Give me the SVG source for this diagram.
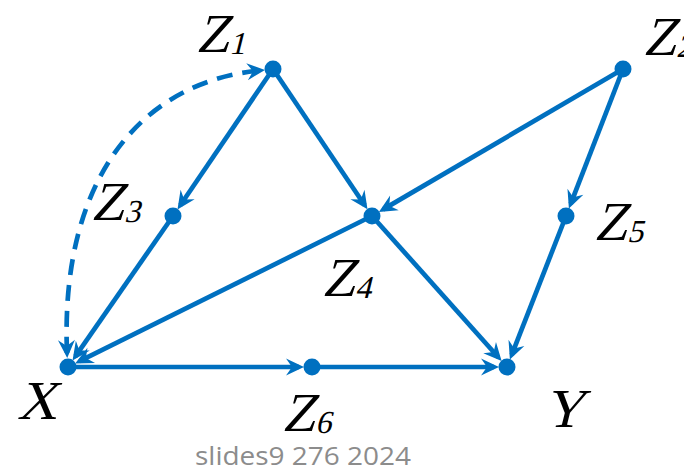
<svg xmlns="http://www.w3.org/2000/svg" width="684" height="468" viewBox="0 0 684 468">
<style>
.edge{fill:none;stroke:#0070C0;stroke-width:4.7;}
.dash{stroke-dasharray:16 10;}
.node{fill:#0070C0;}
.lbl{font-family:"Liberation Serif","Times New Roman",serif;font-size:55px;fill:#000;}
.sub{font-size:32px;}
.wm{font-family:"Open Sans","Noto Sans",sans-serif;font-size:26px;fill:#8c8c8c;}
</style>
<defs>
<marker id="arr" markerUnits="userSpaceOnUse" markerWidth="40" markerHeight="40" refX="0" refY="0" orient="auto-start-reverse" overflow="visible">
<path d="M5,0 L-13,-8.5 L-7,0 L-13,8.5 Z" fill="#0070C0"/>
</marker>
</defs>
<rect width="684" height="468" fill="#fff"/>
<g id="connectors">
<path class="edge dash" d="M67,353 C60,180 140,82 260,70.5" marker-start="url(#arr)" marker-end="url(#arr)"/>
<line class="edge" x1="273" y1="69" x2="180.3" y2="205.3" marker-end="url(#arr)"/>
<line class="edge" x1="273" y1="69" x2="364.7" y2="205.2" marker-end="url(#arr)"/>
<line class="edge" x1="623" y1="69" x2="383.2" y2="209.4" marker-end="url(#arr)"/>
<line class="edge" x1="623" y1="69" x2="570.7" y2="203.9" marker-end="url(#arr)"/>
<line class="edge" x1="173" y1="216" x2="75.4" y2="356.3" marker-end="url(#arr)"/>
<line class="edge" x1="372" y1="216" x2="79.6" y2="361.2" marker-end="url(#arr)"/>
<line class="edge" x1="372" y1="216" x2="498.3" y2="357.3" marker-end="url(#arr)"/>
<line class="edge" x1="566" y1="216" x2="511.7" y2="354.9" marker-end="url(#arr)"/>
<line class="edge" x1="68" y1="367" x2="299" y2="367" marker-end="url(#arr)"/>
<line class="edge" x1="312" y1="367" x2="494" y2="367" marker-end="url(#arr)"/>
</g>
<g id="Z1"><circle class="node" cx="273" cy="69" r="8.5"/><text class="lbl" transform="translate(196,52) skewX(-14)">Z<tspan class="sub" dy="2">1</tspan></text></g>
<g id="Z2"><circle class="node" cx="623" cy="69" r="8.5"/><text class="lbl" transform="translate(643,55) skewX(-14)">Z<tspan class="sub" dy="2">2</tspan></text></g>
<g id="Z3"><circle class="node" cx="173" cy="216" r="8.5"/><text class="lbl" transform="translate(91,220) skewX(-14)">Z<tspan class="sub" dy="2">3</tspan></text></g>
<g id="Z4"><circle class="node" cx="372" cy="216" r="8.5"/><text class="lbl" transform="translate(322,296) skewX(-14)">Z<tspan class="sub" dy="2">4</tspan></text></g>
<g id="Z5"><circle class="node" cx="566" cy="216" r="8.5"/><text class="lbl" transform="translate(594,240) skewX(-14)">Z<tspan class="sub" dy="2">5</tspan></text></g>
<g id="X"><circle class="node" cx="68" cy="367" r="8.5"/><text class="lbl" transform="translate(17,419) skewX(-14)">X</text></g>
<g id="Z6"><circle class="node" cx="312" cy="367" r="8.5"/><text class="lbl" transform="translate(282,431) skewX(-14)">Z<tspan class="sub" dy="2">6</tspan></text></g>
<g id="Y"><circle class="node" cx="507" cy="367" r="8.5"/><text class="lbl" transform="translate(544,427) skewX(-14)">Y</text></g>
<text class="wm" x="195" y="465" textLength="216" lengthAdjust="spacingAndGlyphs">slides9 276 2024</text>
</svg>
